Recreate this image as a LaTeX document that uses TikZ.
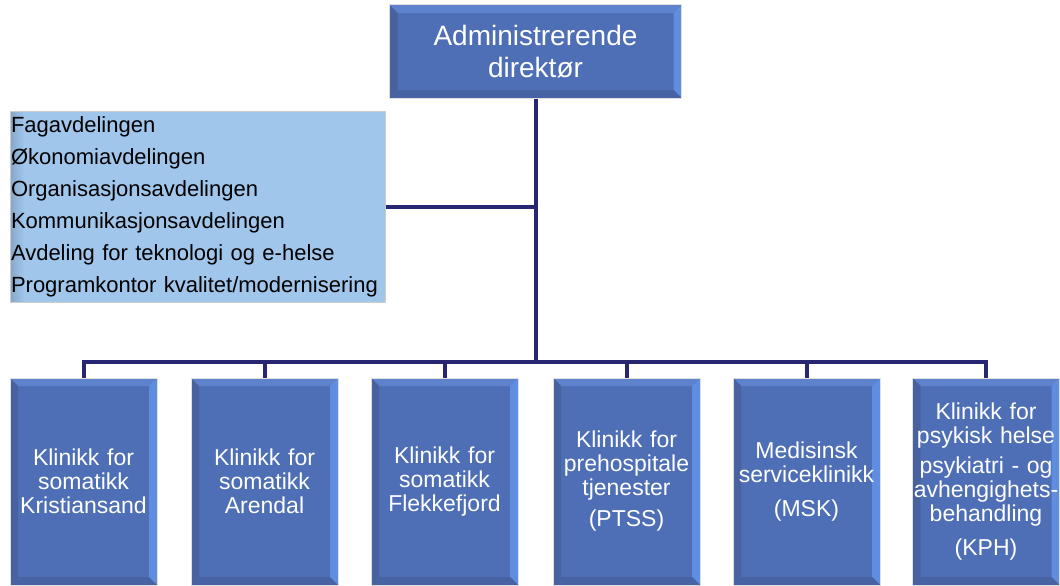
\documentclass[tikz,border=0pt]{standalone}
\usepackage{fontspec}
\setmainfont{Liberation Sans}
\begin{document}
\definecolor{boxblue}{HTML}{4E6FB5}
\definecolor{bevtop}{HTML}{5E82CC}
\definecolor{bevright}{HTML}{5F8EE0}
\definecolor{bevleft}{HTML}{4862A0}
\definecolor{bevbottom}{HTML}{4863A4}
\definecolor{staffblue}{HTML}{A0C6EC}
\definecolor{staffedge}{HTML}{86A6C8}
\definecolor{linknavy}{HTML}{262673}
\tikzset{
  bevelbox/.style={
    draw=black!12, line width=1pt, fill=boxblue, inner sep=0pt, align=center, text=white,
    path picture={
      \def\bv{8pt}
      \fill[bevtop] (path picture bounding box.north west) -- (path picture bounding box.north east)
        -- ([xshift=-\bv,yshift=-\bv]path picture bounding box.north east)
        -- ([xshift=\bv,yshift=-\bv]path picture bounding box.north west) -- cycle;
      \fill[bevright] (path picture bounding box.north east) -- (path picture bounding box.south east)
        -- ([xshift=-\bv,yshift=\bv]path picture bounding box.south east)
        -- ([xshift=-\bv,yshift=-\bv]path picture bounding box.north east) -- cycle;
      \fill[bevbottom] (path picture bounding box.south east) -- (path picture bounding box.south west)
        -- ([xshift=\bv,yshift=\bv]path picture bounding box.south west)
        -- ([xshift=-\bv,yshift=\bv]path picture bounding box.south east) -- cycle;
      \fill[bevleft] (path picture bounding box.south west) -- (path picture bounding box.north west)
        -- ([xshift=\bv,yshift=-\bv]path picture bounding box.north west)
        -- ([xshift=\bv,yshift=\bv]path picture bounding box.south west) -- cycle;
    }},
  clinic/.style={bevelbox, minimum width=147pt, minimum height=207pt, text width=147pt,
    font=\fontsize{23}{24}\selectfont},
  link/.style={draw=linknavy, line width=4pt}
}
\begin{tikzpicture}[x=1pt, y=-1pt]
\useasboundingbox (0,0) rectangle (1060,586);

% chief executive
\node[bevelbox, minimum width=292pt, minimum height=93pt,
      font=\fontsize{28}{32}\selectfont] (top) at (535.5,51.5) {Administrerende\\direktør};

% staff departments
\node[draw=black!20, line width=1pt, inner sep=0pt, minimum width=375pt, minimum height=191pt,
      text width=373pt, align=left, font=\fontsize{22}{32}\selectfont,
      path picture={
        \fill[staffblue] (path picture bounding box.south west) rectangle (path picture bounding box.north east);
        \shade[left color=staffedge, right color=staffblue]
          (path picture bounding box.south west) rectangle ([xshift=14pt]path picture bounding box.north west);
      }] (staff) at (197.5,206.5)
  {Fagavdelingen\\Økonomiavdelingen\\Organisasjonsavdelingen\\Kommunikasjonsavdelingen\\Avdeling for teknologi og e-helse\\Programkontor kvalitet/modernisering};

% clinics
\node[clinic] (c1) at (83.5,481.5) {Klinikk for\\somatikk\\Kristiansand};
\node[clinic] (c2) at (264.5,481.5) {Klinikk for\\somatikk\\Arendal};
\node[clinic] (c3) at (444.5,481.5) {Klinikk for\\somatikk\\Flekkefjord};
\node[clinic] (c4) at (626.5,481.5) {Klinikk for\\prehospitale\\tjenester\\[7pt](PTSS)};
\node[clinic] (c5) at (806.5,481.5) {Medisinsk\\serviceklinikk\\[10pt](MSK)};
\node[clinic] (c6) at (986,481.5) {Klinikk for\\psykisk helse\\[6pt]psykiatri - og\\avhengighets-\\behandling\\[10pt](KPH)};

% connectors
\coordinate (bus) at (535.5,362);
\draw[link] (top.south) -- (bus);
\draw[link] (staff.east) -- (staff.east -| top.south);
\foreach \c in {c1,c2,c3,c4,c5,c6}
  \draw[link] (bus) -| (\c.north);
\end{tikzpicture}
\end{document}
